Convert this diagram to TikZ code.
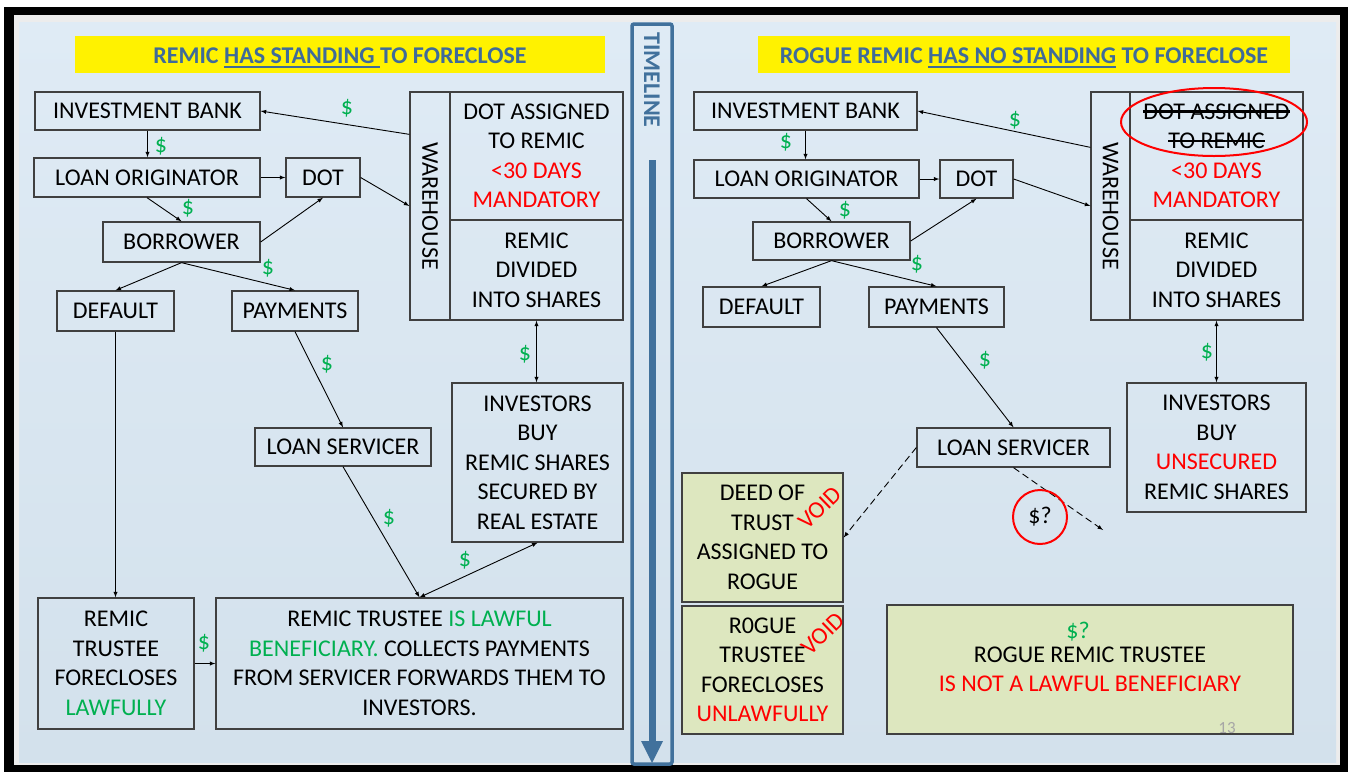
\documentclass[tikz,border=0pt]{standalone}
\usepackage{fontspec}
\setmainfont{Carlito}
\usepackage{xcolor}
\usepackage{tikz}
\usetikzlibrary{arrows}

\definecolor{rim}{HTML}{ECECEC}
\definecolor{paneltop}{HTML}{DFEBF5}
\definecolor{panelbot}{HTML}{D3E1EC}
\definecolor{edge}{HTML}{404040}
\definecolor{grn}{HTML}{00B050}
\definecolor{redd}{HTML}{FF0000}
\definecolor{ttl}{HTML}{3F6B99}
\definecolor{tline}{HTML}{41719C}
\definecolor{rogue}{HTML}{DDE7BF}
\definecolor{pgno}{HTML}{A6A6A6}

\newcommand\boxfont{\fontsize{24}{29.5}\selectfont}
\newcommand\strk[1]{\setbox0\hbox{#1}\rlap{\vrule height 0.38em depth -0.29em width \wd0}\box0\relax}
\newcommand\ulne[1]{\setbox0\hbox{#1}\rlap{\vrule height -0.11em depth 0.19em width \wd0}\box0\relax}

\begin{document}
\begin{tikzpicture}[x=1pt,y=-1pt,
  box/.style={draw=edge,line width=1.3pt,inner sep=0pt,align=center,font=\boxfont},
  roguebox/.style={box,fill=rogue},
  cash/.style={text=grn,font=\boxfont,inner sep=0pt},
  headline/.style={fill=yellow,inner sep=0pt,minimum width=#1,minimum height=37pt,text height=20pt,text depth=1.5pt,text=ttl,font=\boxfont\bfseries},
  void/.style={text=redd,font=\boxfont,rotate=44,inner sep=0pt},
  link/.style={line width=0.9pt,->},
  lost/.style={link,dash pattern=on 7pt off 4pt}]
\useasboundingbox (0,0) rectangle (1348,772);
\fill[white] (0,0) rectangle (1348,772);
\fill[black] (4,7) rectangle (1348,772);
\fill[rim] (14,15) rectangle (1340,765);
\shade[top color=paneltop,bottom color=panelbot] (19,22) rectangle (1336,762);

\draw[tline,line width=3.5pt,rounded corners=2pt] (632,24) rectangle (672,764);
\node[rotate=-90,text=tline,font=\boxfont\bfseries,inner sep=0pt] (tl) at (652,80) {TIMELINE};
\draw[tline,line width=7pt] (652,160) -- (652,745);
\fill[tline] (641,741) -- (663,741) -- (652,763) -- cycle;

\node[headline=530pt] (headL) at (340,54) {REMIC \ulne{HAS STANDING\ }TO FORECLOSE};
\node[headline=532pt] (headR) at (1024,54) {ROGUE REMIC \ulne{HAS NO STANDING} TO FORECLOSE};

\begin{scope}[>=latex]
    \node[box,minimum width=225pt,minimum height=38pt] (ibL) at (147.5,111) {INVESTMENT BANK};
    \node[box,minimum width=226pt,minimum height=39pt] (loL) at (147,177.5) {LOAN ORIGINATOR};
    \node[box,minimum width=74pt,minimum height=39pt] (dotL) at (323,177.5) {DOT};
    \node[box,minimum width=157pt,minimum height=40pt] (boL) at (181.5,242) {BORROWER};
    \node[box,minimum width=117pt,minimum height=40pt] (defL) at (115.5,311) {DEFAULT};
    \node[box,minimum width=126pt,minimum height=40pt] (payL) at (295,311) {PAYMENTS};
    \node[box,minimum width=40pt,minimum height=228pt] (whL) at (430,206) {\rotatebox{-90}{WAREHOUSE}};
    \node[box,minimum width=173pt,minimum height=128pt] (daL) at (536.5,156) {DOT ASSIGNED\\TO REMIC\\\textcolor{redd}{<30 DAYS}\\\textcolor{redd}{MANDATORY}};
    \node[box,minimum width=173pt,minimum height=100pt] (rdL) at (536.5,270) {REMIC\\DIVIDED\\INTO SHARES};
    \node[box,minimum width=171pt,minimum height=159pt] (invL) at (537.5,462.5) {INVESTORS\\BUY\\REMIC SHARES\\SECURED BY\\REAL ESTATE};
    \node[box,minimum width=176pt,minimum height=38pt] (lsL) at (343,447) {LOAN SERVICER};
    \node[box,minimum width=156pt,minimum height=131pt] (tfL) at (116,663.5) {REMIC\\TRUSTEE\\FORECLOSES\\\textcolor{grn}{LAWFULLY}};
    \node[box,minimum width=407pt,minimum height=131pt] (tbL) at (419.5,663.5) {REMIC TRUSTEE \textcolor{grn}{IS LAWFUL}\\\textcolor{grn}{BENEFICIARY.} COLLECTS PAYMENTS\\FROM SERVICER FORWARDS THEM TO\\INVESTORS.};

    \draw[link] ([yshift=-43pt]whL.north west) -- (ibL.east);
    \draw[link] (ibL.south) -- (ibL.south |- loL.north);
    \draw[link] (loL.east) -- (dotL.west);
    \draw[link] (loL.south) -- (boL.north);
    \draw[link] (boL.east) -- (dotL.south);
    \draw[link] (dotL.east) -- (whL.west);
    \draw[link] (boL.south) -- (defL.north);
    \draw[link] (boL.south) -- (payL.north);
    \draw[link] (defL.south) -- (defL.south |- tfL.north);
    \draw[link] (payL.south) -- (lsL.north);
    \draw[link,<->] (rdL.south) -- (rdL.south |- invL.north);
    \draw[link] (lsL.south) -- (tbL.north);
    \draw[link,<->] (invL.south) -- (tbL.north);
    \draw[link] (tfL.east) -- (tbL.west);

    \node[cash] (c1) at (347,108) {\$};
    \node[cash] (c2) at (161,146) {\$};
    \node[cash] (c3) at (188,208) {\$};
    \node[cash] (c4) at (268,268) {\$};
    \node[cash] (c5) at (327,364) {\$};
    \node[cash] (c6) at (525,354) {\$};
    \node[cash] (c7) at (389,518) {\$};
    \node[cash] (c8) at (465,560) {\$};
    \node[cash] (c9) at (204,643) {\$};

    \node[box,minimum width=223pt,minimum height=38pt] (ibR) at (805.5,111) {INVESTMENT BANK};
    \node[box,minimum width=225pt,minimum height=38pt] (loR) at (806.5,179) {LOAN ORIGINATOR};
    \node[box,minimum width=73pt,minimum height=38pt] (dotR) at (976.5,179) {DOT};
    \node[box,minimum width=157pt,minimum height=38pt] (boR) at (831.5,241) {BORROWER};
    \node[box,minimum width=117pt,minimum height=40pt] (defR) at (761.5,307) {DEFAULT};
    \node[box,minimum width=135pt,minimum height=40pt] (payR) at (936.5,307) {PAYMENTS};
    \node[box,minimum width=39pt,minimum height=228pt] (whR) at (1110.5,206) {\rotatebox{-90}{WAREHOUSE}};
    \node[box,minimum width=173pt,minimum height=128pt] (daR) at (1216.5,156) {\strk{DOT ASSIGNED}\\\strk{TO REMIC}\\\textcolor{redd}{<30 DAYS}\\\textcolor{redd}{MANDATORY}};
    \node[box,minimum width=173pt,minimum height=100pt] (rdR) at (1216.5,270) {REMIC\\DIVIDED\\INTO SHARES};
    \node[box,minimum width=179pt,minimum height=129pt] (invR) at (1216.5,447.5) {INVESTORS\\BUY\\\textcolor{redd}{UNSECURED}\\REMIC SHARES};
    \node[box,minimum width=193pt,minimum height=39pt] (lsR) at (1013.5,447.5) {LOAN SERVICER};
    \node[roguebox,minimum width=161pt,minimum height=129pt] (deedR) at (762.5,537.5) {DEED OF\\TRUST\\ASSIGNED TO\\ROGUE};
    \node[roguebox,minimum width=161pt,minimum height=128pt] (rtR) at (762.5,670) {R0GUE\\TRUSTEE\\FORECLOSES\\\textcolor{redd}{UNLAWFULLY}};
    \node[roguebox,minimum width=406pt,minimum height=129pt] (rbR) at (1090,669.5) {ROGUE REMIC TRUSTEE\\\textcolor{redd}{IS NOT A LAWFUL BENEFICIARY}};
    \node[cash] (c16) at (1078,632) {\$?};
    \node[void] (v1) at (820,508) {VOID};
    \node[void] (v2) at (823,634) {VOID};
    \node[text=pgno,font=\fontsize{17}{20}\selectfont,inner sep=0pt] (pg) at (1227,728) {13};
    \coordinate (gone) at (1103,530);

    \draw[link] ([yshift=-56pt]whR.north west) -- (ibR.east);
    \draw[link] (ibR.south) -- (ibR.south |- loR.north);
    \draw[link] (loR.east) -- (dotR.west);
    \draw[link] (loR.south) -- (boR.north);
    \draw[link] (boR.east) -- (dotR.south);
    \draw[link] (dotR.east) -- (whR.west);
    \draw[link] (boR.south) -- (defR.north);
    \draw[link] (boR.south) -- (payR.north);
    \draw[link] (payR.south) -- (lsR.north);
    \draw[link,<->] (rdR.south) -- (rdR.south |- invR.north);
    \draw[lost] (lsR.west) -- (deedR.east);
    \draw[lost] (lsR.south) -- (gone);

    \node[draw=redd,line width=2pt,circle,minimum size=54pt,inner sep=0pt,font=\boxfont] (qs) at (1040,517) {\$?};
    \draw[redd,line width=2pt] (1214,122) ellipse [x radius=93, y radius=34];

    \node[cash] (c10) at (1015,120) {\$};
    \node[cash] (c11) at (786,142) {\$};
    \node[cash] (c12) at (845,210) {\$};
    \node[cash] (c13) at (917,264) {\$};
    \node[cash] (c14) at (985,360) {\$};
    \node[cash] (c15) at (1207,352) {\$};
\end{scope}
\end{tikzpicture}
\end{document}
